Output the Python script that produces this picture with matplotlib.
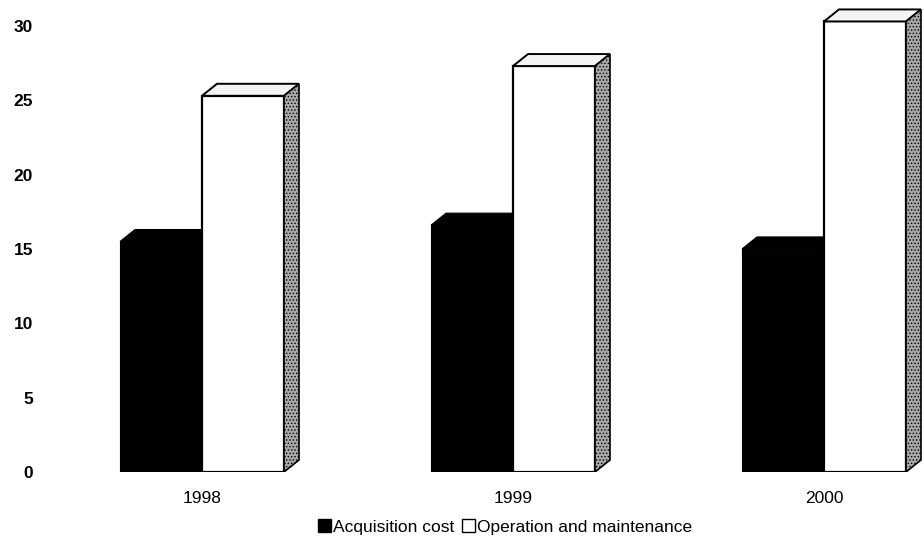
import matplotlib
matplotlib.use("Agg")
import matplotlib.pyplot as plt
from matplotlib.patches import Polygon, Patch
import numpy as np

plt.rcParams['font.family'] = ['Liberation Sans', 'DejaVu Sans']
plt.rcParams['hatch.linewidth'] = 0.6

years = ['1998', '1999', '2000']
acquisition = [15.5, 16.6, 15.0]
operation = [25.3, 27.3, 30.3]
yticks = [0, 5, 10, 15, 20, 25, 30]

W, H = 924, 550
fig = plt.figure(figsize=(W / 100, H / 100), dpi=100)
left_px, bottom_px = 40, 472
ax = fig.add_axes([left_px / W, (H - bottom_px) / H, 1 - left_px / W, bottom_px / H])

px_x = 311.0   # pixels per category
px_y = 14.87   # pixels per unit
x0_px = 202
ax.set_xlim((left_px - x0_px) / px_x, (W - x0_px) / px_x)
ax.set_ylim(0, bottom_px / px_y)

bw = 82 / px_x
ddx = 15 / px_x
ddy = 12 / px_y

x = np.arange(len(years))

# acquisition (black) bars
ax.bar(x - bw / 2, acquisition, width=bw, color='black', edgecolor='black', linewidth=0.8, zorder=2)
for xi, h in zip(x, acquisition):
    xl, xr = xi - bw, xi
    ax.add_patch(Polygon([(xl, h), (xl + ddx, h + ddy), (xr + ddx, h + ddy), (xr, h)],
                         closed=True, facecolor='black', edgecolor='black', lw=0.8, zorder=2))

# operation (white) bars
ax.bar(x + bw / 2, operation, width=bw, color='white', edgecolor='black', linewidth=1.6, zorder=3)
for xi, h in zip(x, operation):
    xl, xr = xi, xi + bw
    ax.add_patch(Polygon([(xl, h), (xl + ddx, h + ddy), (xr + ddx, h + ddy), (xr, h)],
                         closed=True, facecolor='#f4f4f4', edgecolor='black', lw=1.4, zorder=3))
    ax.add_patch(Polygon([(xr, 0), (xr + ddx, ddy), (xr + ddx, h + ddy), (xr, h)],
                         closed=True, facecolor='#a8a8a8', edgecolor='black', lw=1.2,
                         hatch='.....', zorder=3))

for s in ax.spines.values():
    s.set_visible(False)
ax.set_yticks(yticks)
ax.set_yticklabels([str(t) for t in yticks], fontsize=12.5, fontweight='bold')
ax.set_xticks(x)
ax.set_xticklabels(years, fontsize=12.5)
ax.tick_params(axis='y', length=0, pad=5)
ax.tick_params(axis='x', length=0, pad=14)

handles = [Patch(facecolor='black', edgecolor='black', label='Acquisition cost'),
           Patch(facecolor='white', edgecolor='black', label='Operation and maintenance')]
fig.legend(handles=handles, loc='center', bbox_to_anchor=(505 / W, 1 - 527 / H), ncol=2,
           frameon=False, fontsize=12.5, handlelength=0.75, handleheight=0.75,
           handletextpad=0.15, columnspacing=0.4)

fig.savefig('out.png', dpi=100)
